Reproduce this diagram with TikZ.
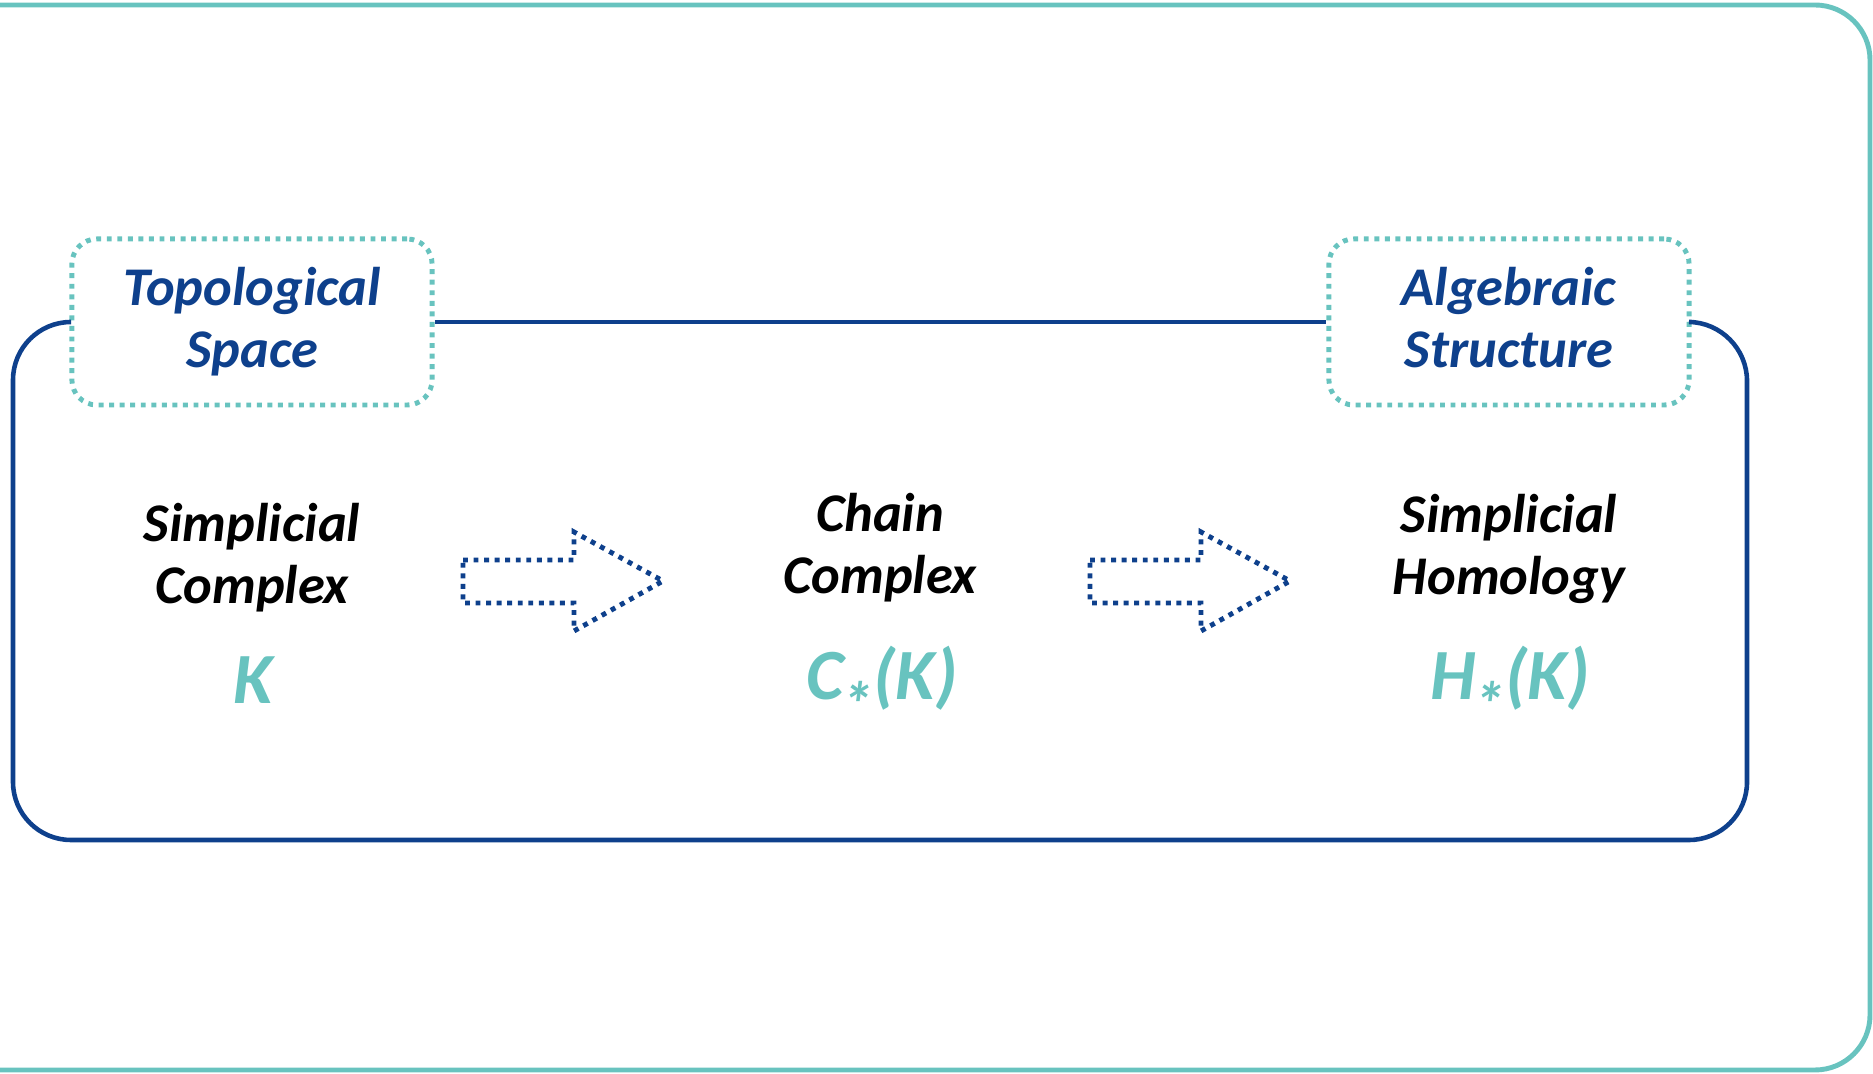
\documentclass[tikz,border=0pt]{standalone}
\usepackage{fontspec}
\setmainfont{Carlito}
\usepackage{tikz}
\usetikzlibrary{shapes,positioning,calc}
\definecolor{tealish}{RGB}{104,195,191}
\definecolor{deepblue}{RGB}{14,64,140}
\newcommand{\lowast}{\kern-0.6pt\raisebox{-7.6pt}{\fontsize{18}{18}\selectfont *}}
\tikzset{
    spacebox/.style={
        rectangle,
        rounded corners=0.25cm,
        draw=tealish,
        line width=1.4pt,
        dash pattern=on 1.4pt off 1.6pt,
        minimum width=3.6cm,
        minimum height=1.66cm,
        align=center,
        text=deepblue,
        font=\fontsize{15.5}{17.6}\selectfont\bfseries\itshape
    },
    stagelabel/.style={
        align=center,
        font=\fontsize{15.5}{17.6}\selectfont\bfseries\itshape
    },
    formula/.style={
        anchor=base,
        text=tealish,
        font=\fontsize{20.5}{24}\selectfont\bfseries\itshape
    },
    flowarrow/.style={
        draw=deepblue,
        line width=1.4pt,
        dash pattern=on 1.4pt off 1.6pt
    },
    link/.style={
        draw=deepblue,
        line width=1.3pt,
        rounded corners=0.58cm
    },
    frame/.style={
        draw=tealish,
        line width=1.4pt,
        rounded corners=0.55cm
    }
}

\begin{document}
\begin{tikzpicture}[x=0.01cm, y=-0.01cm]
    \useasboundingbox (0,0) rectangle (1873,1074);
    \clip (0,0) rectangle (1873,1074);

    % Outer frame, open to the left
    \draw[frame] (-100,5) rectangle (1870,1070);

    % Topological and algebraic side
    \node[spacebox] (topo) at (252,322) {Topological\\Space};
    \node[spacebox] (alg) at (1509,322) {Algebraic\\Structure\vphantom{p}};

    % Links around the stages
    \draw[link] (topo) -- (alg);
    \draw[link] (topo.west) -| (13,840) -| (1747,323) -- (alg.east);

    % Stages
    \node[stagelabel] (simp) at (252,558) {Simplicial\\Complex};
    \node[stagelabel] (chain) at (880,548) {Chain\\Complex};
    \node[stagelabel] (homol) at (1509,549) {Simplicial\\Homology};

    % Symbols under the stages
    \node[formula] (symK) at (253,704) {K};
    \node[formula] (symC) at (882,700) {C\lowast(K)};
    \node[formula] (symH) at (1510,700) {H\lowast(K)};

    % Block arrows between the stages
    \draw[flowarrow] (463,560) -- (574,560) -- (574,532) -- (663,581) -- (574,631) -- (574,603) -- (463,603) -- cycle;
    \draw[flowarrow, shift={(627,0)}] (463,560) -- (574,560) -- (574,532) -- (663,581) -- (574,631) -- (574,603) -- (463,603) -- cycle;
\end{tikzpicture}
\end{document}
